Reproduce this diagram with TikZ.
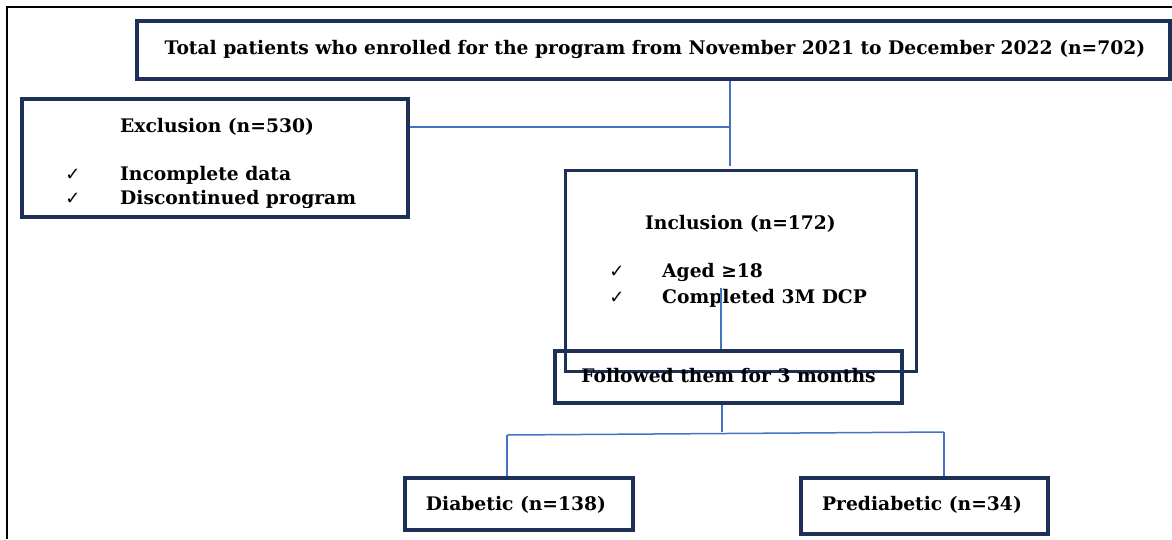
\documentclass[tikz,border=0pt]{standalone}
\usepackage{fontspec}
\setmainfont{DejaVu Serif}
\newfontfamily\symfont{DejaVu Sans}
\definecolor{boxnavy}{HTML}{1F3058}
\definecolor{linkblue}{HTML}{4472C4}
\begin{document}
\begin{tikzpicture}[x=1pt,y=-1pt,
  box/.style={draw=boxnavy, line width=3.2pt, inner sep=0pt},
  conn/.style={draw=linkblue, line width=1.5pt},
  txt/.style={font=\bfseries\fontsize{18.7}{20}\selectfont, inner sep=0pt, text=black},
  chk/.style={font=\symfont\fontsize{18}{20}\selectfont, inner sep=0pt}]
\useasboundingbox (0,0) rectangle (1172,539);
% outer frame
\draw[line width=1.4pt] (1172,7) -- (7,7) -- (7,539);

% boxes
\node[box, minimum width=1033pt, minimum height=58pt] (total) at (653.5,50) {};
\node[box, minimum width=386pt, minimum height=118pt] (excl) at (215,158) {};
\node[box, minimum width=351pt, minimum height=201pt] (incl) at (741,271) {};
\node[box, minimum width=347pt, minimum height=52pt] (follow) at (728.5,377) {};
\node[box, minimum width=228pt, minimum height=52pt] (diab) at (519,504) {};
\node[box, minimum width=247pt, minimum height=56pt] (pre) at (924.5,506) {};

% texts
\node[txt, anchor=base] (ttotal) at (655,54) {Total patients who enrolled for the program from November 2021 to December 2022 (n=702)};
\begin{scope}
\clip (22,99) rectangle (408,207);
\node[txt, anchor=base west] (texcl) at (120,132) {Exclusion (n=530)};
\node[chk, anchor=base] (ce1) at (73,180) {✓};
\node[txt, anchor=base west] (te1) at (120,180) {Incomplete data};
\node[chk, anchor=base] (ce2) at (73,204) {✓};
\node[txt, anchor=base west] (te2) at (120,204) {Discontinued program};
\end{scope}
\node[txt, anchor=base] (tincl) at (740.5,229) {Inclusion (n=172)};
\node[chk, anchor=base] (ci1) at (617,277) {✓};
\node[txt, anchor=base west] (ti1) at (662,277) {Aged ≥18};
\node[chk, anchor=base] (ci2) at (617,303) {✓};
\node[txt, anchor=base west] (ti2) at (662,303) {Completed 3M DCP};
\node[txt, anchor=base] (tfollow) at (728.5,382) {Followed them for 3 months};
\node[txt, anchor=base] (tdiab) at (516,510) {Diabetic (n=138)};
\node[txt, anchor=base] (tpre) at (922,510) {Prediabetic (n=34)};

% connectors
\coordinate (j1) at (730,166);
\coordinate (jx) at (730,127);
\draw[conn] (total.south -| j1) -- (j1);
\draw[conn] (excl.east |- jx) -- (jx);
\coordinate (c1) at (721,288);
\draw[conn] (c1) -- (c1 |- follow.north);
\coordinate (b0) at (722,432);
\draw[conn] (follow.south -| b0) -- (b0);
\coordinate (bl) at (507,435);
\coordinate (br) at (944,432);
\draw[conn] (bl) -- (br);
\draw[conn] (bl) -- (bl |- diab.north);
\draw[conn] (br) -- (br |- pre.north);
\end{tikzpicture}
\end{document}
